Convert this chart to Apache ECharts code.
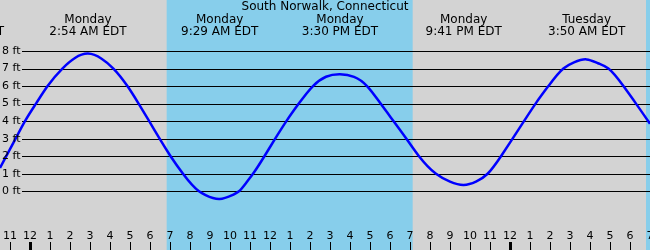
<!DOCTYPE html>
<html>
<head>
<meta charset="utf-8">
<script src="https://cdn.jsdelivr.net/npm/echarts@6/dist/echarts.min.js"></script>
<style>
html,body{margin:0;padding:0;background:#d3d3d3;}
#chart{width:650px;height:250px;}
</style>
</head>
<body>
<div id="chart"></div>
<script>
// Hours measured from Monday 00:00 EDT
const titleText = 'South Norwalk, Connecticut';
const tideHours = [-1.5,-0.72,-0.25,0.3,0.88,1.62,2.25,2.9,3.58,4.17,4.87,5.43,5.96,6.48,7.03,7.65,8.45,8.78,9.48,10.15,10.45,10.82,11.15,11.72,12.26,12.82,13.44,14.15,14.8,15.5,16.2,16.85,17.53,18.18,18.82,19.45,20.3,21.0,21.68,22.3,22.88,23.55,24.13,24.7,25.28,25.92,26.67,27.2,27.83,28.4,28.92,29.67,30.3,31.0];
const tideFeet  = [1.33,3.0,4.0,5.0,6.0,7.0,7.6,7.85,7.56,7.0,6.0,5.0,4.0,3.0,2.0,1.0,0.0,-0.22,-0.44,-0.2,0.0,0.5,1.0,2.0,3.0,4.0,5.0,6.0,6.53,6.67,6.52,6.0,5.0,4.0,3.0,2.0,1.0,0.55,0.36,0.55,1.0,2.0,3.0,4.0,5.0,6.0,7.0,7.35,7.52,7.3,7.0,6.0,5.0,3.85];
const extremeHours = [-3.2, 2.9, 9.4833, 15.5, 21.6833, 27.8333];
const extremeDays  = ['Sunday','Monday','Monday','Monday','Monday','Tuesday'];
const extremeTimes = ['8:48 PM EDT','2:54 AM EDT','9:29 AM EDT','3:30 PM EDT','9:41 PM EDT','3:50 AM EDT'];
const daylightStart = [6.8333, 30.8];   // sunrise
const daylightEnd   = [19.1333, 33];    // sunset
const yTicks = [0,1,2,3,4,5,6,7,8];
const hourTicks = [-1,0,1,2,3,4,5,6,7,8,9,10,11,12,13,14,15,16,17,18,19,20,21,22,23,24,25,26,27,28,29,30,31];
const midnightTicks = [0, 24];

const FONT = 'DejaVu Sans';
const chart = echarts.init(document.getElementById('chart'), null, {renderer:'canvas'});

const bandData = daylightStart.map((s,i)=>[s, daylightEnd[i]]);
const curveData = tideHours.map((h,i)=>[h, tideFeet[i]]);

// natural cubic spline through pixel points, emitted as bezier path
function splinePath(pts){
  const n = pts.length;
  const h = [], d = [];
  for (let i=0;i<n-1;i++){ h.push(pts[i+1][0]-pts[i][0]); d.push((pts[i+1][1]-pts[i][1])/h[i]); }
  const M = new Array(n).fill(0);
  const a=[],b=[],c=[],r=[];
  for (let i=1;i<n-1;i++){ a.push(h[i-1]); b.push(2*(h[i-1]+h[i])); c.push(h[i]); r.push(6*(d[i]-d[i-1])); }
  const k = a.length;
  for (let i=1;i<k;i++){ const w=a[i]/b[i-1]; b[i]-=w*c[i-1]; r[i]-=w*r[i-1]; }
  const sol = new Array(k).fill(0);
  if (k>0){ sol[k-1]=r[k-1]/b[k-1]; for (let i=k-2;i>=0;i--) sol[i]=(r[i]-c[i]*sol[i+1])/b[i]; }
  for (let i=0;i<k;i++) M[i+1]=sol[i];
  let s = 'M' + pts[0][0] + ' ' + pts[0][1];
  for (let i=0;i<n-1;i++){
    const m0 = d[i] - h[i]*(2*M[i]+M[i+1])/6;
    const m1 = d[i] + h[i]*(M[i]+2*M[i+1])/6;
    const t = h[i]/3;
    s += ' C' + (pts[i][0]+t) + ' ' + (pts[i][1]+m0*t) + ' ' +
         (pts[i+1][0]-t) + ' ' + (pts[i+1][1]-m1*t) + ' ' +
         pts[i+1][0] + ' ' + pts[i+1][1];
  }
  return s;
}

chart.setOption({
  animation:false,
  backgroundColor:'#d3d3d3',
  title:{text:titleText,left:'center',top:1,padding:0,
    textStyle:{fontFamily:FONT,fontSize:12,fontWeight:'normal',color:'#000'}},
  grid:{left:0,right:0,top:0,bottom:0,containLabel:false,outerBoundsMode:'none'},
  xAxis:[{
    type:'value',min:-1.5,max:31,z:5,
    axisLine:{show:false,onZero:false},
    splitLine:{show:false},
    axisTick:{show:true,inside:true,length:8,customValues:hourTicks,lineStyle:{color:'#000',width:1}},
    axisLabel:{show:true,inside:true,margin:8,customValues:hourTicks,
      fontFamily:FONT,fontSize:11,color:'#000',
      formatter:v=>{const hh=((Math.round(v)%12)+12)%12;return String(hh===0?12:hh);}}
  },{
    type:'value',min:-1.5,max:31,position:'bottom',z:5,
    axisLine:{show:false,onZero:false},splitLine:{show:false},axisLabel:{show:false},
    axisTick:{show:true,inside:true,length:8,customValues:midnightTicks,lineStyle:{color:'#000',width:3}}
  }],
  yAxis:{
    type:'value',min:-3.347,max:10.907,z:5,
    axisLine:{show:false},axisTick:{show:false},splitLine:{show:false},
    axisLabel:{show:true,inside:true,margin:2,customValues:yTicks,
      fontFamily:FONT,fontSize:11,color:'#000',formatter:'{value} ft'}
  },
  series:[
    {
      type:'custom',z:0,clip:true,data:bandData,
      renderItem:(params,api)=>{
        const x0=api.coord([api.value(0),0])[0];
        const x1=api.coord([api.value(1),0])[0];
        const cs=params.coordSys;
        return {type:'rect',shape:{x:x0,y:cs.y,width:x1-x0,height:cs.height},style:{fill:'#87ceeb'}};
      }
    },
    {
      type:'custom',z:1,data:yTicks.map(v=>[0,v]),
      renderItem:(params,api)=>{
        const y=Math.round(api.coord([0,api.value(1)])[1])+0.5;
        const cs=params.coordSys;
        return {type:'line',shape:{x1:cs.x+22,y1:y,x2:cs.x+cs.width,y2:y},style:{stroke:'#000',lineWidth:1}};
      }
    },
    {
      type:'custom',z:2,clip:true,data:curveData,
      renderItem:(params,api)=>{
        if (params.dataIndex!==0) return null;
        const pts = curveData.map(p=>api.coord(p));
        return {type:'path',shape:{pathData:splinePath(pts)},
          style:{stroke:'#0000ff',lineWidth:2.5,fill:null,lineJoin:'round'}};
      }
    },
    {
      type:'custom',z:3,clip:false,data:extremeHours.map(h=>[h,0]),
      renderItem:(params,api)=>{
        const i=params.dataIndex;
        const x=api.coord([api.value(0),0])[0];
        return {type:'text',x:x,y:14,style:{text:extremeDays[i]+'\n'+extremeTimes[i],
          align:'center',verticalAlign:'top',font:'12px "DejaVu Sans"',lineHeight:12,fill:'#000'}};
      }
    }
  ]
});
</script>
</body>
</html>
